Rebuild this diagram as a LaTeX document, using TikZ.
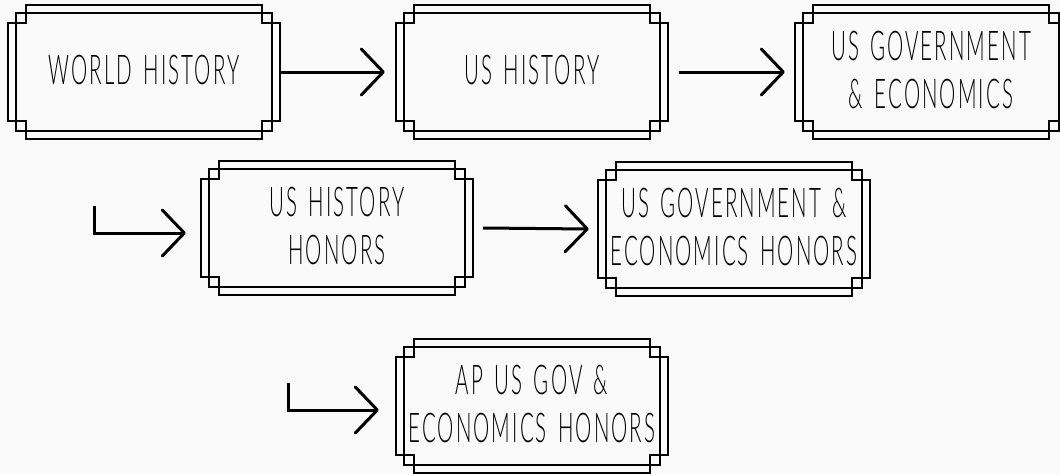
\documentclass[tikz,border=0pt]{standalone}
\usepackage{fontspec}
\usepackage{tikz}
\usetikzlibrary{arrows.meta}
\newfontfamily\handfont[FakeStretch=0.5, LetterSpace=5, WordSpace=1.5, UprightFont={* Light}]{Lato}
\definecolor{paper}{RGB}{250,250,250}

\begin{document}
\begin{tikzpicture}[
            x=1pt, y=-1pt,
            declare function={
                WW = 136;
                WH = 49;
                TW = 118;
                TH = 67;
                IW = 128;
                IH = 59;
            },
            course/.style={minimum width=272pt, minimum height=134pt, inner sep=0pt,
                text depth=5pt, align=center, font=\handfont\fontsize{41}{48}\selectfont},
            frameline/.style={line width=1.6pt},
            flow/.style={line width=3pt, -{Straight Barb[length=22pt, width=46pt, round]}}
        ]
            \fill[paper] (0, 0) rectangle (1060, 474);
            \clip (0, 0) rectangle (1060, 474);

            \node[course] (wh) at (144, 72) {WORLD HISTORY};
            \node[course] (ush) at (532, 72) {US HISTORY};
            \node[course] (usg) at (931, 72) {US GOVERNMENT\\\& ECONOMICS};
            \node[course] (ushh) at (337, 228) {US HISTORY\\HONORS};
            \node[course] (usgh) at (734, 229) {US GOVERNMENT \&\\ECONOMICS HONORS};
            \node[course] (apg) at (532, 406) {AP US GOV \&\\ECONOMICS HONORS};

            \foreach \n in {wh,ush,usg,ushh,usgh,apg} {
                \begin{scope}[shift={(\n.center)}]
                    % stepped outline
                    \draw[frameline] (-TW, -TH) -- (TW, -TH) -- (TW, -WH) -- (WW, -WH)
                        -- (WW, WH) -- (TW, WH) -- (TW, TH) -- (-TW, TH)
                        -- (-TW, WH) -- (-WW, WH) -- (-WW, -WH) -- (-TW, -WH) -- cycle;
                    % inner rectangle
                    \draw[frameline] (-IW, -IH) rectangle (IW, IH);
                \end{scope}
            }

            \draw[flow] (wh.east) -- ([xshift=-11pt]ush.west);
            \draw[flow] ([xshift=11pt]ush.east) -- ([xshift=-10pt]usg.west);
            \draw[flow] ([xshift=10pt]ushh.east) -- ([xshift=-9pt]usgh.west);

            \coordinate (hstart) at (94, 206);
            \coordinate (apstart) at (288, 383);
            \draw[flow] (hstart) |- ([xshift=-15pt, yshift=-5pt]ushh.west);
            \draw[flow] (apstart) |- ([xshift=-17pt, yshift=-4pt]apg.west);
        \end{tikzpicture}
\end{document}
